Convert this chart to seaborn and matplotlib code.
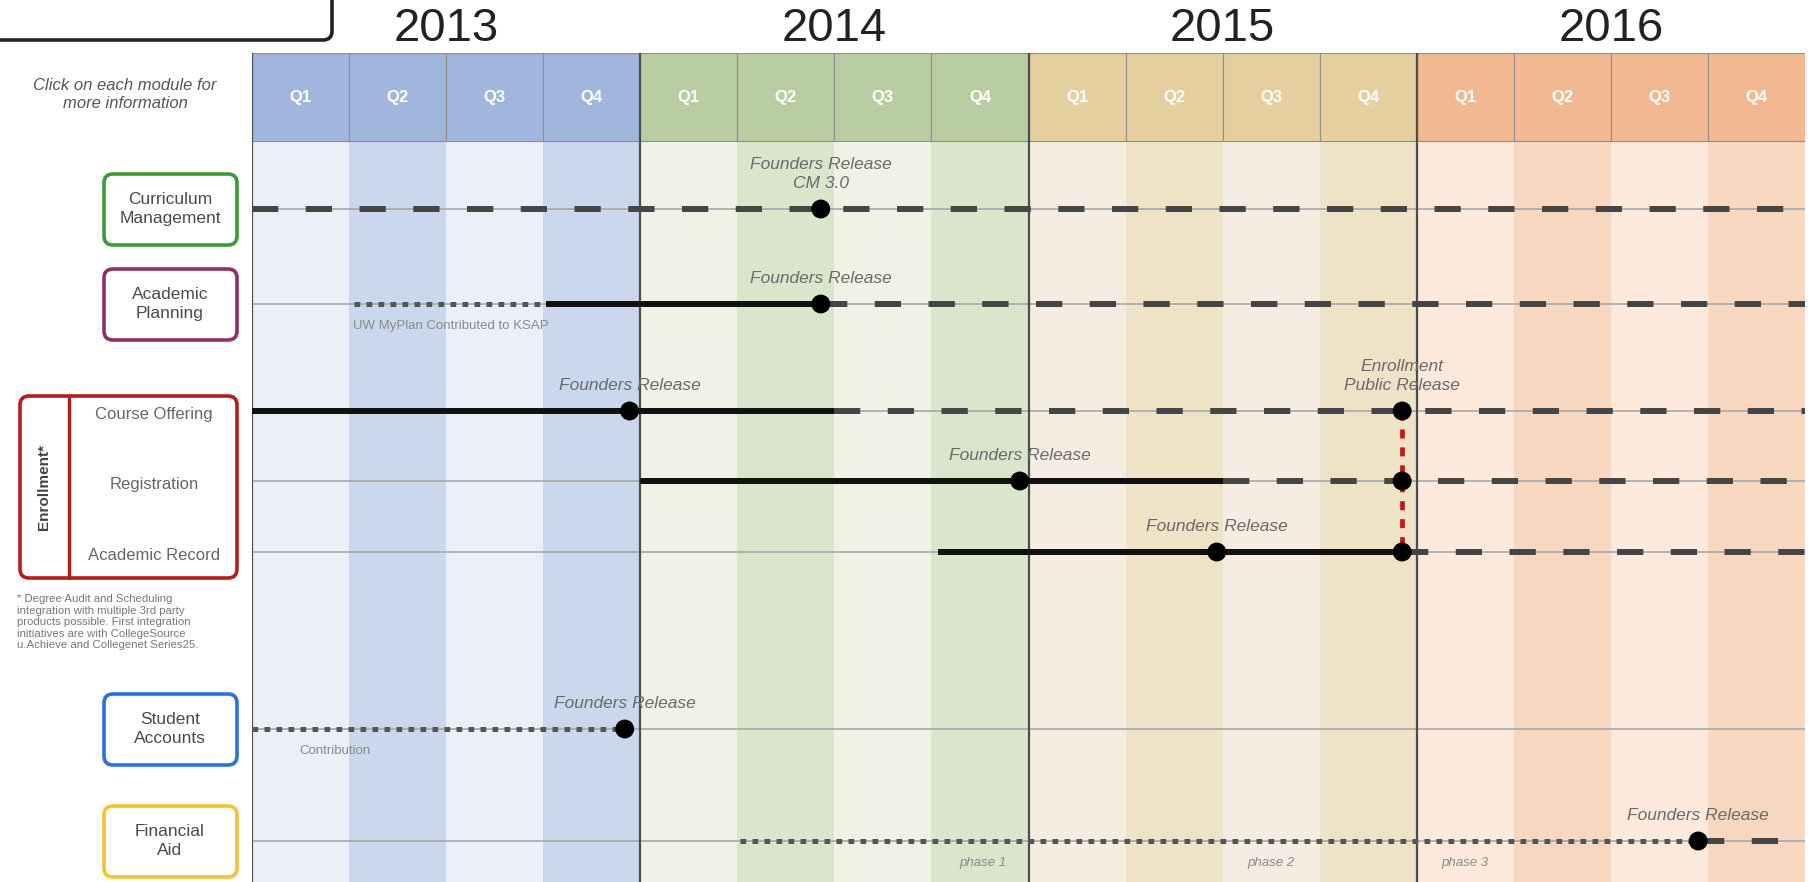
import numpy as np
import pandas as pd
import matplotlib.pyplot as plt
from matplotlib.patches import FancyBboxPatch
import seaborn as sns

# timeline header
years = ["2013", "2014", "2015", "2016"]
quarters = ["Q1", "Q2", "Q3", "Q4"]

# module rows
rows = ["Curriculum Management", "Academic Planning", "Course Offering",
        "Registration", "Academic Record", "Student Accounts", "Financial Aid"]

# work segments (quarters since 2013 Q1)
seg_row = ["Curriculum Management",
           "Academic Planning", "Academic Planning", "Academic Planning",
           "Course Offering", "Course Offering",
           "Registration", "Registration",
           "Academic Record", "Academic Record",
           "Student Accounts",
           "Financial Aid", "Financial Aid"]
seg_start = [0, 1.05, 3.03, 5.86, 0, 6.0, 4.0, 10.0, 7.07, 11.85, 0, 5.03, 14.9]
seg_end = [16, 3.03, 5.86, 16, 6.0, 16, 10.0, 16, 11.85, 16, 3.84, 14.9, 16]
seg_kind = ["planned",
            "contrib", "dev", "planned",
            "dev", "planned",
            "dev", "planned",
            "dev", "planned",
            "contrib",
            "contrib", "planned"]

# milestones
ms_row = ["Curriculum Management", "Academic Planning", "Course Offering", "Course Offering",
          "Registration", "Registration", "Academic Record", "Academic Record",
          "Student Accounts", "Financial Aid"]
ms_quarter = [5.86, 5.86, 3.89, 11.85, 7.91, 11.85, 9.94, 11.85, 3.84, 14.9]
ms_label = ["Founders Release\nCM 3.0", "Founders Release", "Founders Release",
            "Enrollment\nPublic Release", "Founders Release", "", "Founders Release", "",
            "Founders Release", "Founders Release"]

# small notes under the lines
note_row = ["Academic Planning", "Student Accounts", "Financial Aid", "Financial Aid", "Financial Aid"]
note_quarter = [2.05, 0.86, 7.53, 10.5, 12.5]
note_text = ["UW MyPlan Contributed to KSAP", "Contribution", "phase 1", "phase 2", "phase 3"]

# enrollment public release link
link_quarter = 11.85
link_rows = ["Course Offering", "Academic Record"]

# ---- layout / styling ----
W, H = 1814, 882
header_top, header_bot = 53, 141
row_y = {"Curriculum Management": 209, "Academic Planning": 304, "Course Offering": 411,
         "Registration": 481, "Academic Record": 552, "Student Accounts": 729,
         "Financial Aid": 841}
header_colors = ["#a1b6dd", "#b9cda3", "#e6cf9f", "#f1b892"]
band_light = ["#eaeff8", "#eef3e6", "#f5ede2", "#fdeadc"]
band_dark = ["#cbd7ed", "#dae5cc", "#efe3c7", "#f8d7c1"]
line_styles = {
    "planned": dict(color="#454545", lw=4.3, ls=(0, (4.4, 4.6))),
    "dev": dict(color="#111111", lw=4.3, ls="-"),
    "contrib": dict(color="#555555", lw=3.6, ls=(0, (1.15, 1.25))),
}

sns.set_theme(style="white")
plt.rcParams["font.family"] = ["Liberation Sans", "DejaVu Sans"]

fig = plt.figure(figsize=(W / 100, H / 100), dpi=100)

# left label panel, pixel coordinates
lab = fig.add_axes([0, 0, 1, 1])
lab.set_xlim(0, W)
lab.set_ylim(H, 0)
lab.axis("off")

ax = fig.add_axes([252 / W, 0, (1805 - 252) / W, (H - header_top) / H])

n_q = len(years) * len(quarters)
q = np.arange(n_q)
ax.bar(q, H - header_bot, bottom=header_bot, width=1, align="edge",
       color=[(band_light if i % 2 == 0 else band_dark)[i // 4] for i in q], linewidth=0)
ax.bar(q, header_bot - header_top, bottom=header_top, width=1, align="edge",
       color=[header_colors[i // 4] for i in q], edgecolor="#8e8e8e", linewidth=0.8)
for i in q:
    ax.text(i + 0.5, (header_top + header_bot) / 2, quarters[i % 4], ha="center", va="center",
            color="white", fontsize=12, fontweight="bold")
for k, yr in enumerate(years):
    ax.text(4 * k + 2, 29, yr, ha="center", va="center", fontsize=34, color="#222222", clip_on=False)

ax.hlines([row_y[r] for r in rows], 0, n_q, color="#a3a3a3", lw=1.1, zorder=1)
ax.vlines([0, 4, 8, 12], header_top, H, color="#4d4d4d", lw=1.6, zorder=1.5)

for r, s, e, kind in zip(seg_row, seg_start, seg_end, seg_kind):
    st = line_styles[kind]
    ax.plot([s, e], [row_y[r], row_y[r]], color=st["color"], lw=st["lw"], ls=st["ls"],
            solid_capstyle="butt", zorder=3)

ax.plot([link_quarter, link_quarter], [row_y[link_rows[0]], row_y[link_rows[1]]],
        color="#c4161c", lw=3.4, ls=(0, (1.9, 1.9)), zorder=3.5)

ms = pd.DataFrame({"quarter": ms_quarter, "y": [row_y[r] for r in ms_row], "label": ms_label})
sns.scatterplot(data=ms, x="quarter", y="y", color="black", s=185, edgecolor="none",
                legend=False, ax=ax, zorder=5)
for _, m in ms.iterrows():
    if m["label"]:
        ax.annotate(m["label"], (m["quarter"], m["y"]), xytext=(0, 13), textcoords="offset points",
                    ha="center", va="bottom", fontsize=12.5, style="italic", color="#6a6a6a",
                    linespacing=1.3, zorder=6)

for r, x, t in zip(note_row, note_quarter, note_text):
    ax.annotate(t, (x, row_y[r]), xytext=(0, -16), textcoords="offset points",
                ha="center", va="center", fontsize=9.5, style="italic" if "phase" in t else "normal",
                color="#8a8a8a", zorder=6)

ax.set_xlim(0, n_q)
ax.set_ylim(H, header_top)
ax.axis("off")

# ---- left panel ----
lab.add_patch(FancyBboxPatch((-20, -60), 352, 100, boxstyle="round,pad=0,rounding_size=9",
                             fc="white", ec="#222222", lw=2.6))
lab.text(125, 95, "Click on each module for\nmore information", ha="center", va="center",
         fontsize=12, style="italic", color="#555555", linespacing=1.25)

boxes = [("Curriculum\nManagement", "Curriculum Management", "#3c9a3c"),
         ("Academic\nPlanning", "Academic Planning", "#8e3062"),
         ("Student\nAccounts", "Student Accounts", "#2c6fe0"),
         ("Financial\nAid", "Financial Aid", "#f5c234")]
for text, r, col in boxes:
    yc = row_y[r]
    lab.add_patch(FancyBboxPatch((104, yc - 35), 133, 71, boxstyle="round,pad=0,rounding_size=9",
                                 fc="white", ec=col, lw=2.6))
    lab.text(170, yc, text, ha="center", va="center", fontsize=12.5, color="#4a4a4a",
             linespacing=1.3)

lab.add_patch(FancyBboxPatch((20, 396), 217, 182, boxstyle="round,pad=0,rounding_size=9",
                             fc="white", ec="#b71c1c", lw=2.6))
lab.plot([69, 69], [396, 578], color="#b71c1c", lw=2.4)
lab.text(44, 487, "Enrollment*", rotation=90, ha="center", va="center", fontsize=11,
         fontweight="bold", color="#444444")
for r in ["Course Offering", "Registration", "Academic Record"]:
    lab.text(154, row_y[r] + 3, r, ha="center", va="center", fontsize=12, color="#666666")

lab.text(17, 594, "* Degree Audit and Scheduling\nintegration with multiple 3rd party\n"
         "products possible. First integration\ninitiatives are with CollegeSource\n"
         "u.Achieve and Collegenet Series25.",
         ha="left", va="top", fontsize=8.2, color="#777777", linespacing=1.2)

fig.savefig("out.png", dpi=100)
